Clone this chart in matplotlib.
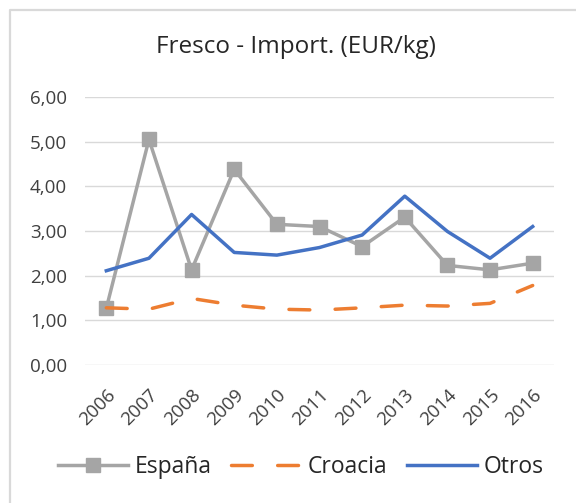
from matplotlib import pyplot as plt
import matplotlib.ticker as ticker
from matplotlib.lines import Line2D

years = ["2006", "2007", "2008", "2009", "2010", "2011",
         "2012", "2013", "2014", "2015", "2016"]
espana = [1.27, 5.05, 2.13, 4.38, 3.15, 3.10, 2.65, 3.31, 2.23, 2.13, 2.28]
croacia = [1.28, 1.25, 1.49, 1.34, 1.25, 1.23, 1.28, 1.34, 1.32, 1.38, 1.78]
otros = [2.11, 2.39, 3.37, 2.52, 2.46, 2.63, 2.91, 3.78, 2.99, 2.39, 3.10]

plt.rcParams['font.family'] = ['Open Sans', 'DejaVu Sans']

fig = plt.figure(figsize=(5.76, 5.03), dpi=100)
ax = fig.add_axes([85/576, 1 - 365/503, 469/576, 268/503])

x = range(len(years))
ax.plot(x, espana, color="#A5A5A5", linewidth=2.5, marker="s",
        markersize=10.5, label="España", zorder=3)
ax.plot(x, croacia, color="#ED7D31", linewidth=2.5, dashes=(6, 7.3),
        dash_capstyle="round", label="Croacia", zorder=3)
ax.plot(x, otros, color="#4472C4", linewidth=2.5, label="Otros", zorder=3)

ax.set_xlim(-0.5, len(years) - 0.5)
ax.set_ylim(0, 6)
ax.yaxis.set_major_locator(ticker.MultipleLocator(1))
ax.yaxis.set_major_formatter(ticker.FuncFormatter(lambda v, p: "{:.2f}".format(v).replace(".", ",")))
ax.set_xticks(list(x))
ax.set_xticklabels(years, rotation=45, ha="right", rotation_mode="anchor")
ax.tick_params(axis="y", length=0, pad=13, labelsize=13.5, labelcolor="#404040")
ax.tick_params(axis="x", length=0, pad=15, labelsize=13.5, labelcolor="#404040")
ax.grid(True, axis="y", color="#D9D9D9", linewidth=1)
ax.set_axisbelow(True)
for s in ax.spines.values():
    s.set_visible(False)

fig.text(296/576, 1 - 47/503, "Fresco - Import. (EUR/kg)", ha="center",
         va="center", fontsize=17.5, color="#262626")

fig.legend(loc="center", bbox_to_anchor=(301/576, 1 - 467/503), ncol=3,
           frameon=False, fontsize=16.5, handlelength=3.05, handletextpad=0.3,
           columnspacing=0.85, labelcolor="#262626")

# chart area border (only top and left edges are visible in the crop)
fig.lines.append(Line2D([10/576, 10/576, 1], [0, 1 - 9.5/503, 1 - 9.5/503],
                        transform=fig.transFigure, color="#D9D9D9", linewidth=1.6))

fig.savefig("out.png", dpi=100)
